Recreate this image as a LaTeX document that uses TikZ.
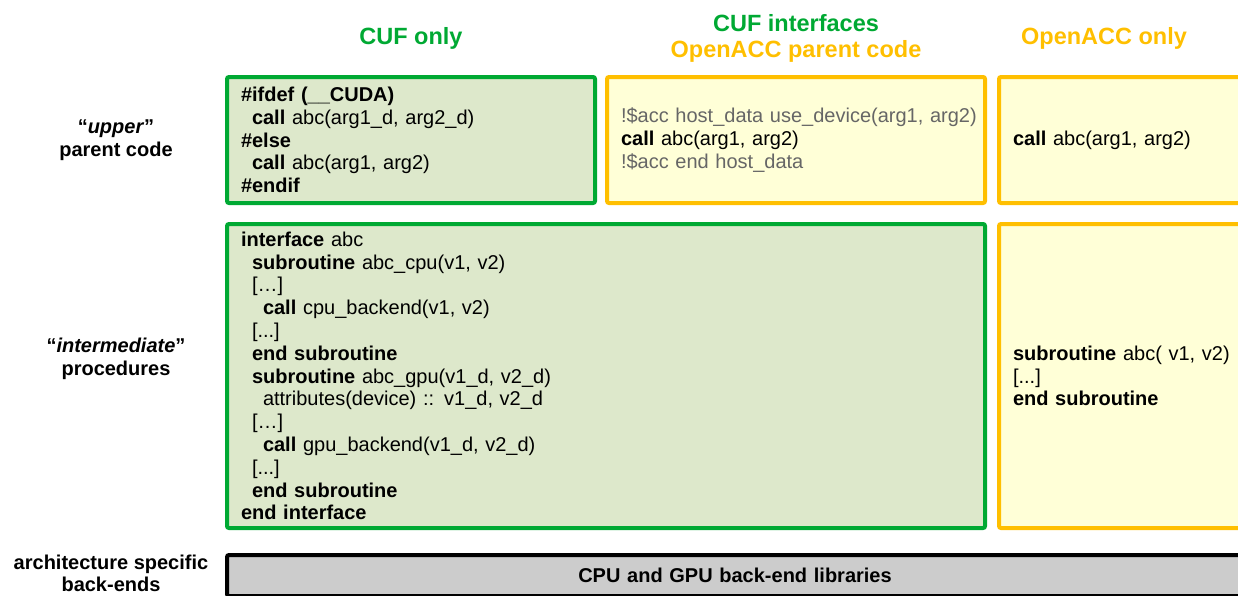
\documentclass[tikz,border=0pt]{standalone}
\usepackage{fontspec}
\setmainfont{Liberation Sans}
\usetikzlibrary{positioning}
\definecolor{cufGreen}{HTML}{00A933}
\definecolor{accGold}{HTML}{FFBF00}
\definecolor{cufFill}{HTML}{DDE8CB}
\definecolor{accFill}{HTML}{FFFFD7}
\definecolor{libFill}{HTML}{CCCCCC}
\definecolor{pragmaGray}{HTML}{666666}
\newcommand{\cdfont}{\fontsize{20}{22.8}\selectfont}
\newcommand{\hdfont}{\fontsize{23.5}{26}\selectfont\bfseries}
\newcommand{\kw}[1]{\textbf{#1}}
\newcommand{\codeind}{\hspace*{11pt}}
\tikzset{
  codebox/.style={line width=4pt, rounded corners=2pt, inner xsep=14pt, inner ysep=0pt,
    align=left, font=\cdfont},
  cufbox/.style={codebox, draw=cufGreen, fill=cufFill},
  accbox/.style={codebox, draw=accGold, fill=accFill},
  libbox/.style={codebox, draw=black, fill=libFill, align=center, font=\cdfont\bfseries},
  headtext/.style={font=\hdfont, align=center},
  rowlabel/.style={font=\cdfont\bfseries, align=center},
}

\begin{document}
\begin{tikzpicture}[x=1pt, y=-1pt]
    \useasboundingbox (0,0) rectangle (1238,595);
    \clip (0,0) rectangle (1238,595);
    \node[cufbox, text width=340pt, minimum height=126pt] (cufTop) at (411,140)
      {\kw{\#ifdef (\_\_CUDA)}\\\codeind\kw{call} abc(arg1\_d, arg2\_d)\\\kw{\#else}\\\codeind\kw{call} abc(arg1, arg2)\\\kw{\#endif}};
    \node[accbox, text width=350pt, minimum height=126pt, right=8pt of cufTop] (accMid)
      {\mbox{\textcolor{pragmaGray}{!\$acc host\_data use\_device(arg1, arg2)}}\\\kw{call} abc(arg1, arg2)\\\textcolor{pragmaGray}{!\$acc end host\_data}};
    \node[accbox, text width=218pt, minimum height=126pt, right=10pt of accMid] (accTop) {\kw{call} abc(arg1, arg2)};
    \node[cufbox, text width=730pt, minimum height=304pt, below=17pt of cufTop.south west, anchor=north west] (cufBig)
      {\kw{interface} abc\\
       \codeind\kw{subroutine} abc\_cpu(v1, v2)\\
       \codeind{[…]}\\
       \codeind\codeind\kw{call} cpu\_backend(v1, v2)\\
       \codeind{[...]}\\
       \codeind\kw{end subroutine}\\
       \codeind\kw{subroutine} abc\_gpu(v1\_d, v2\_d)\\
       \codeind\codeind attributes(device) :: v1\_d, v2\_d\\
       \codeind{[…]}\\
       \codeind\codeind\kw{call} gpu\_backend(v1\_d, v2\_d)\\
       \codeind{[...]}\\
       \codeind\kw{end subroutine}\\
       \kw{end interface}};
    \node[accbox, text width=218pt, minimum height=304pt, below=17pt of accTop.south west, anchor=north west] (accBig)
      {\kw{subroutine} abc( v1, v2)\\{[...]}\\\kw{end subroutine}};
    \node[libbox, text width=988pt, minimum height=41pt, below=23pt of cufBig.south west, anchor=north west] (libs) {CPU and GPU back-end libraries};
    \coordinate (hdr) at (0,38);
    \node[headtext, text=cufGreen] (hCuf) at (cufTop |- hdr) {CUF only};
    \node[headtext] (hMix) at (accMid |- hdr) {\textcolor{cufGreen}{CUF interfaces}\\\textcolor{accGold}{OpenACC parent code}};
    \node[headtext, text=accGold] (hAcc) at (1104,38) {OpenACC only};
    \coordinate (lblx) at (116,0);
    \node[rowlabel] (upperLbl) at (lblx |- cufTop) {“\textit{upper}”\\parent code};
    \node[rowlabel] (interLbl) at (116,359) {“\textit{intermediate}”\\procedures};
    \node[rowlabel, font=\fontsize{20}{22}\selectfont\bfseries] (archLbl) at (111,573) {architecture specific\\back-ends};
\end{tikzpicture}
\end{document}
